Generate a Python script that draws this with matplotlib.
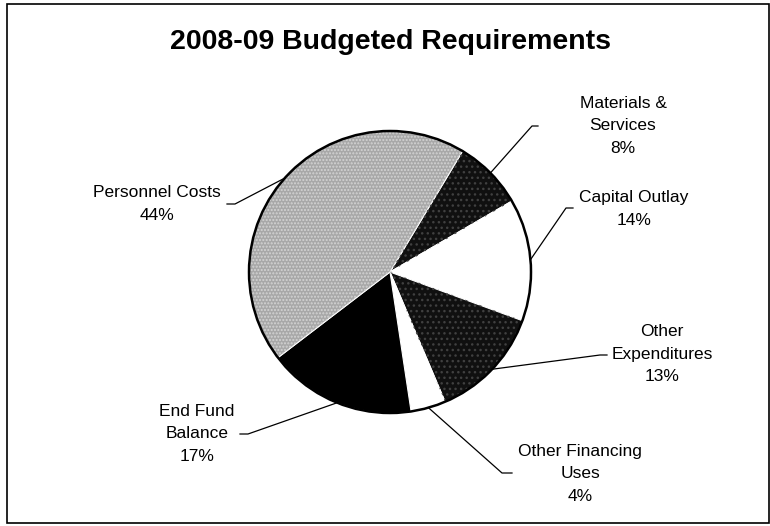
import numpy as np
import matplotlib.pyplot as plt
from matplotlib.patches import Wedge, Circle, Rectangle

plt.rcParams['font.family'] = ['Liberation Sans', 'DejaVu Sans']
plt.rcParams['hatch.linewidth'] = 1.0

# Budget shares (%), clockwise from the top right of the pie
categories = ['Materials &\nServices', 'Capital Outlay', 'Other\nExpenditures',
              'Other Financing\nUses', 'End Fund\nBalance', 'Personnel Costs']
shares = [8, 14, 13, 4, 17, 44]

# Fill styles: (face colour, hatch, hatch colour)
fills = [('#101010', '...', '#404040'),
         ('white', None, None),
         ('#101010', '...', '#404040'),
         ('white', None, None),
         ('black', None, None),
         ('#a8a8a8', '.....', '#d4d4d4')]

W, H = 770, 526
center = (390, H - 272)
radius = 141

# Label centres and leader elbows, in pixel coords measured from the top
label_pos = [(623, 126), (634, 209), (662, 354), (580, 474), (197, 434), (157, 204)]
elbows = [(532, 126), (566, 208), (600, 355), (502, 473), (248, 434), (235, 204)]
ends = [(538, 126), (573, 208), (607, 355), (512, 473), (240, 434), (227, 204)]

fig = plt.figure(figsize=(W / 100, H / 100), dpi=100)
ax = fig.add_axes([0, 0, 1, 1])

wedges, _ = ax.pie(shares, colors=[f[0] for f in fills], startangle=59,
                   counterclock=False, radius=radius, center=center,
                   wedgeprops=dict(edgecolor='white', linewidth=0.8),
                   frame=False)

# dotted texture on top of the shaded wedges
for w, (fc, hatch, hc) in zip(wedges, fills):
    if hatch:
        ax.add_patch(Wedge(center, radius, w.theta1, w.theta2, facecolor='none',
                           edgecolor=hc, hatch=hatch, linewidth=0))

ax.add_patch(Circle(center, radius, fill=False, edgecolor='black', linewidth=1.8))

# labels with leader lines from the middle of each wedge's arc
for w, cat, share, (lx, ly), (ex, ey), (tx, ty) in zip(
        wedges, categories, shares, label_pos, elbows, ends):
    mid = np.deg2rad((w.theta1 + w.theta2) / 2)
    px = center[0] + radius * np.cos(mid)
    py = center[1] + radius * np.sin(mid)
    ax.plot([px, ex, tx], [py, H - ey, H - ty], color='black', linewidth=0.9)
    ax.text(lx, H - ly, f'{cat}\n{share}%', ha='center', va='center',
            fontsize=12.5, linespacing=1.65)

ax.text(390, H - 42, '2008-09 Budgeted Requirements', ha='center', va='center',
        fontsize=20.5, fontweight='bold')

ax.add_patch(Rectangle((7, H - 523), 762, 519, fill=False,
                       edgecolor='black', linewidth=1.2))

ax.set_xlim(0, W)
ax.set_ylim(0, H)
ax.axis('off')

fig.savefig('out.png', dpi=100)
